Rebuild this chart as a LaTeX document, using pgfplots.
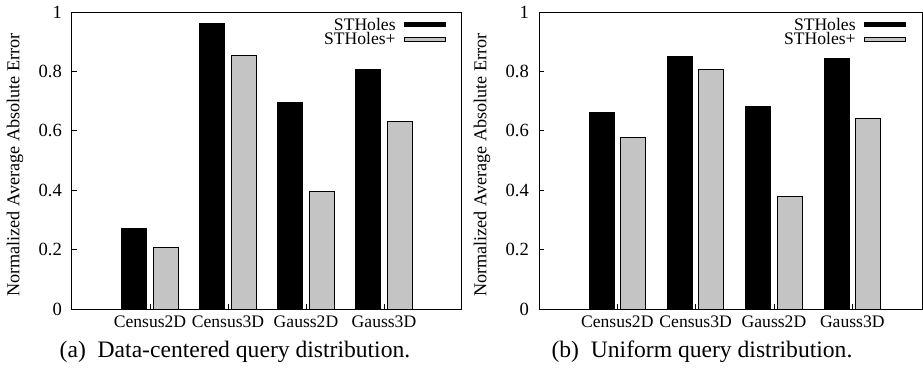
\documentclass[border=0pt]{standalone}
\usepackage{fontspec}
\setmainfont{Liberation Serif}
\usepackage{pgfplots}
\pgfplotsset{compat=1.18}
\definecolor{hatch}{RGB}{196,196,196}
\pgfplotsset{
 mybars/.style={
  scale only axis, height=148.5pt,
  xmin=-1, ymin=0, ymax=1,
  xtick={0,1,2,3}, xticklabels={Census2D,Census3D,Gauss2D,Gauss3D},
  ytick={0,0.2,0.4,0.6,0.8,1}, yticklabels={0,0.2,0.4,0.6,0.8,1},
  xtick pos=bottom, ytick pos=left, tick align=inside,
  major tick length=2.5pt,
  axis line style={line width=0.5pt},
  every tick/.style={black, line width=0.4pt},
  tick label style={font=\fontsize{8.8}{10}\selectfont},
  yticklabel style={xshift=-1.5pt, font=\fontsize{9.3}{10}\selectfont},
  ylabel={Normalized Average Absolute Error},
  ylabel style={at={(axis description cs:0,0.485)}, anchor=center, yshift=28.5pt, font=\fontsize{9.1}{10}\selectfont},
  legend plot pos=right,
  legend cell align=right,
  legend style={at={(1,1)}, anchor=north east, xshift=-8pt, yshift=-3.2pt, draw=none, fill=none, inner sep=0pt, row sep=1.4pt, column sep=4pt, font=\fontsize{8.8}{9}\selectfont, nodes={inner sep=0pt, text height=5.8pt, text depth=0pt}},
 },
 blackbar/.style={ybar, bar width=0.32, bar shift=-0.2, fill=black, draw=black, line width=0.5pt,
   legend image code/.code={\draw[fill=black, draw=black, line width=0.5pt] (0pt,-1pt) rectangle (20.5pt,1pt);}},
 greybar/.style={ybar, bar width=0.32, bar shift=0.2, fill=hatch, draw=black, line width=0.5pt,
   legend image code/.code={\draw[fill=hatch, draw=black, line width=0.5pt] (0pt,-1pt) rectangle (20.5pt,1pt);}},
}
\begin{document}
\begin{tikzpicture}
\begin{axis}[mybars, width=195pt, xmax=4, at={(0pt,0pt)}, anchor=south west]
\addplot[blackbar] coordinates {(0,0.271) (1,0.961) (2,0.694) (3,0.806)};
\addlegendentry{STHoles}
\addplot[greybar] coordinates {(0,0.206) (1,0.853) (2,0.395) (3,0.633)};
\addlegendentry{STHoles+}
\end{axis}
\begin{axis}[mybars, width=191.5pt, xmax=3.89, at={(233.5pt,0pt)}, anchor=south west]
\addplot[blackbar] coordinates {(0,0.662) (1,0.849) (2,0.682) (3,0.843)};
\addlegendentry{STHoles}
\addplot[greybar] coordinates {(0,0.579) (1,0.808) (2,0.378) (3,0.643)};
\addlegendentry{STHoles+}
\end{axis}
\node[font=\fontsize{11.8}{13}\selectfont] at (81.5pt,-21.5pt) {(a)\ \ Data-centered query distribution.};
\node[font=\fontsize{11.8}{13}\selectfont] at (315pt,-21.5pt) {(b)\ \ Uniform query distribution.};
\pgfresetboundingbox
\path[use as bounding box] (-36pt,-31pt) rectangle (425.5pt,154.5pt);
\end{tikzpicture}
\end{document}
